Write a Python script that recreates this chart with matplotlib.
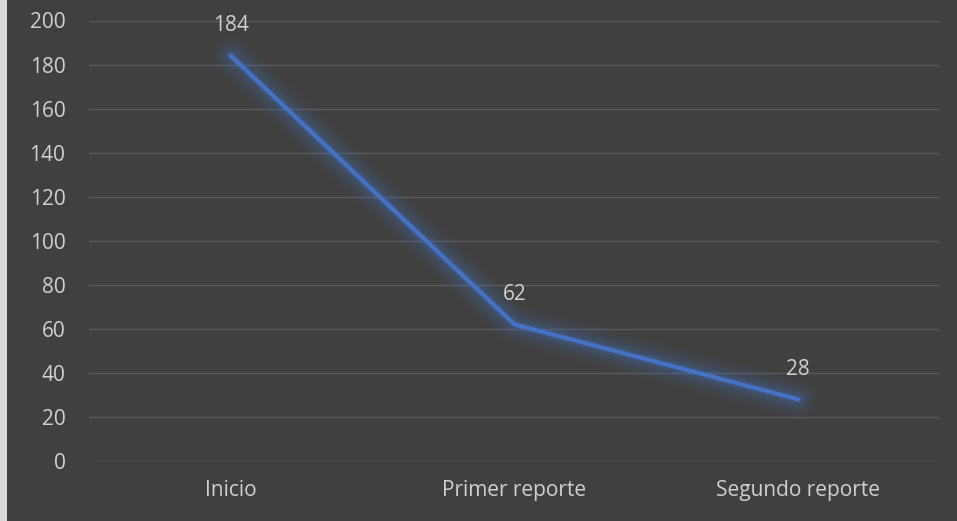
import matplotlib.pyplot as plt

# data
categories = ['Inicio', 'Primer reporte', 'Segundo reporte']
values = [184, 62, 28]
y_ticks = [0, 20, 40, 60, 80, 100, 120, 140, 160, 180, 200]

bg = '#404040'
text_col = '#d0d0d0'
line_col = '#4472c4'

plt.rcParams['font.family'] = ['Open Sans', 'DejaVu Sans']

fig = plt.figure(figsize=(9.57, 5.21), dpi=100)
fig.patch.set_facecolor(bg)

# light strip on the left edge
fig.patches.append(plt.Rectangle((0, 0), 7 / 957, 1, transform=fig.transFigure,
                                 facecolor='#d9d9d9', edgecolor='none', zorder=-1))

ax = fig.add_axes([89 / 957, 1 - 461 / 521, 851 / 957, 440.5 / 521])
ax.set_facecolor(bg)

x = list(range(len(categories)))

# soft glow around the line
for lw, a in [(28, 0.05), (21, 0.07), (15, 0.09), (10, 0.13), (6, 0.18)]:
    ax.plot(x, values, color=line_col, lw=lw, alpha=a, solid_capstyle='round',
            solid_joinstyle='round', zorder=2)
ax.plot(x, values, color=line_col, lw=3, solid_capstyle='round', zorder=3)

for xi, v in zip(x, values):
    ax.annotate(str(v), (xi, v), xytext=(0, 14), textcoords='offset points',
                ha='center', va='bottom', color=text_col, fontsize=15)

ax.set_xlim(-0.5, len(categories) - 0.5)
ax.set_ylim(0, 200)
ax.set_xticks(x)
ax.set_xticklabels(categories)
ax.set_yticks(y_ticks)
ax.tick_params(colors=text_col, labelsize=15, length=0)
ax.tick_params(axis='y', pad=17)
ax.tick_params(axis='x', pad=14)
ax.grid(axis='y', color='#5a5a5a', lw=1)
ax.set_axisbelow(True)
for s in ax.spines.values():
    s.set_visible(False)

fig.savefig('out.png', dpi=100, facecolor=bg)
